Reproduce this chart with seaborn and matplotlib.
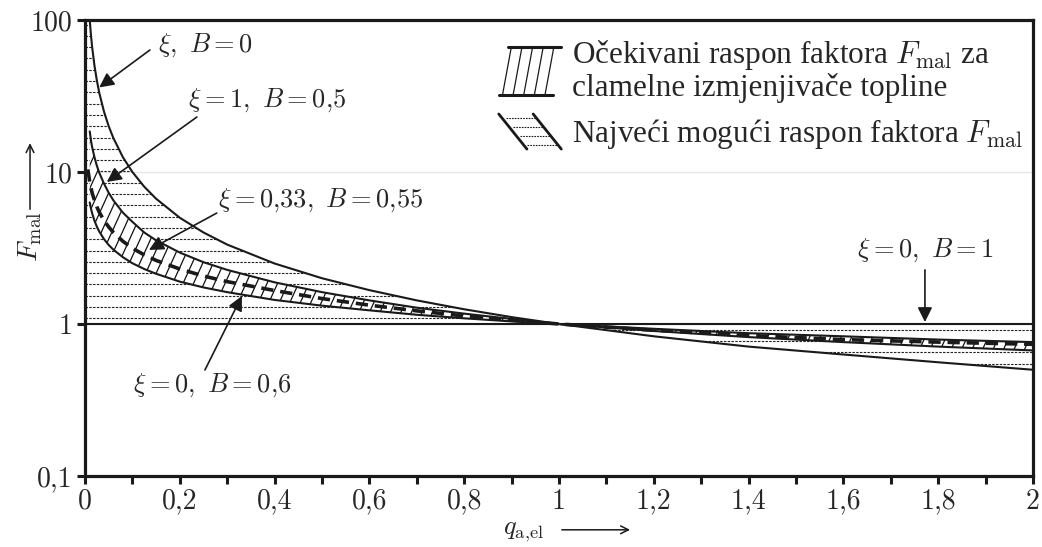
import numpy as np
import pandas as pd
import matplotlib
matplotlib.use("Agg")
import matplotlib.pyplot as plt
import seaborn as sns
from matplotlib.collections import LineCollection
from matplotlib.legend_handler import HandlerBase
from matplotlib.lines import Line2D
from matplotlib.ticker import FixedLocator, MultipleLocator, NullLocator

# values
q = [0.01, 0.0125, 0.015, 0.02, 0.025, 0.03, 0.04, 0.05, 0.06, 0.08, 0.1, 0.125, 0.15,
     0.2, 0.25, 0.3, 0.4, 0.5, 0.6, 0.7, 0.8, 0.9, 1.0, 1.2, 1.4, 1.6, 1.8, 2.0]
f_b0 = [100, 80, 66.7, 50, 40, 33.3, 25, 20, 16.7, 12.5, 10, 8, 6.67,
        5, 4, 3.33, 2.5, 2, 1.67, 1.43, 1.25, 1.11, 1.0, 0.83, 0.71, 0.63, 0.56, 0.5]
f_x1_b05 = [18.5, 16.2, 14.6, 12.5, 11.0, 9.9, 8.4, 7.3, 6.5, 5.4, 4.7, 4.0, 3.55,
            2.95, 2.55, 2.27, 1.88, 1.62, 1.43, 1.28, 1.17, 1.08, 1.0, 0.9, 0.82, 0.76, 0.71, 0.67]
f_x0_b06 = [6.31, 5.77, 5.36, 4.78, 4.37, 4.06, 3.62, 3.31, 3.08, 2.75, 2.51, 2.30, 2.14,
            1.90, 1.74, 1.62, 1.44, 1.32, 1.23, 1.15, 1.09, 1.04, 1.0, 0.93, 0.87, 0.83, 0.79, 0.76]
q_dash = [0.006] + q
f_x033_b055 = [10.4, 8.6, 7.9, 7.3, 6.5, 5.9, 5.45, 4.8, 4.35, 4.0, 3.5, 3.15, 2.85, 2.62,
               2.3, 2.07, 1.9, 1.66, 1.47, 1.33, 1.22, 1.13, 1.06, 1.0, 0.91, 0.84, 0.79, 0.76, 0.735]
q_b1 = [0.0, 2.0]
f_x0_b1 = [1.0, 1.0]

x_ticks = [0, 0.2, 0.4, 0.6, 0.8, 1.0, 1.2, 1.4, 1.6, 1.8, 2.0]
x_labels = ["0", "0,2", "0,4", "0,6", "0,8", "1", "1,2", "1,4", "1,6", "1,8", "2"]
y_ticks = [0.1, 1, 10, 100]
y_labels = ["0,1", "1", "10", "100"]
legend_labels = ["Očekivani raspon faktora $F_{\\rm mal}$ za\nclamelne izmjenjivače topline",
                 "Najveći mogući raspon faktora $F_{\\rm mal}$"]

sns.set_theme(style="white")
plt.rcParams['font.family'] = ['cmr10', 'DejaVu Serif']
plt.rcParams['mathtext.fontset'] = 'cm'
plt.rcParams['axes.unicode_minus'] = False
plt.rcParams['axes.formatter.use_mathtext'] = True

fig = plt.figure(figsize=(10.42, 5.47), dpi=100)
ax = fig.add_axes([85 / 1042, 1 - 476 / 547, 948 / 1042, 456 / 547])
ax.set_yscale('log')
ax.set_xlim(0, 2)
ax.set_ylim(0.1, 100)

# largest possible range: dotted horizontal hatch between 1/q and 1
qm = np.r_[0.0, q]
fm = np.r_[f_b0[0], f_b0]
region = ax.fill_between(qm, fm, 1, facecolor='none', edgecolor='none', zorder=1)
step = 11.3 / 152
lv = 10 ** ((np.arange(-40, 40) + 0.5) * step)
hl = ax.hlines(lv, 0, 2, colors='#222222', linewidth=0.8, linestyles=(0, (2.2, 1.2)), zorder=1)
hl.set_clip_path(region.get_paths()[0], ax.transData)

# expected range band: white fill with steep slanted hatch
band = ax.fill_between(q, f_x1_b05, f_x0_b06, facecolor='white', edgecolor='none', zorder=2)
W, H = 948.0, 456.0
slope = 2.2
segs = []
for i in range(-30, 110):
    x0 = i * 10.5 / W
    segs.append([(x0, 0), (x0 + H / slope / W, 1)])
lc = LineCollection(segs, colors='#111111', linewidths=0.9, transform=ax.transAxes, zorder=3)
ax.add_collection(lc)
lc.set_clip_path(band.get_paths()[0], ax.transData)

sns.lineplot(x=q, y=f_b0, ax=ax, color='k', lw=1.5, sort=False, estimator=None, zorder=4)
sns.lineplot(x=q, y=f_x1_b05, ax=ax, color='k', lw=1.5, sort=False, estimator=None, zorder=4)
sns.lineplot(x=q, y=f_x0_b06, ax=ax, color='k', lw=1.5, sort=False, estimator=None, zorder=4)
sns.lineplot(x=q_b1, y=f_x0_b1, ax=ax, color='k', lw=1.5, sort=False, estimator=None, zorder=4)
sns.lineplot(x=q_dash, y=f_x033_b055, ax=ax, color='k', lw=2.6, sort=False, estimator=None,
             zorder=5, dashes=False, linestyle=(0, (3.4, 1.9)))

ax.yaxis.grid(True, color='#e6e6e6', lw=1, zorder=0)
ax.set_axisbelow(True)

ax.xaxis.set_major_locator(FixedLocator(x_ticks))
ax.set_xticklabels(x_labels)
ax.xaxis.set_minor_locator(MultipleLocator(0.1))
ax.yaxis.set_major_locator(FixedLocator(y_ticks))
ax.yaxis.set_minor_locator(NullLocator())
ax.set_yticklabels(y_labels)
ax.tick_params(which='both', direction='out', length=6, width=2.2, labelsize=20, pad=3,
               bottom=True, left=True, color='k')
for sp in ax.spines.values():
    sp.set_linewidth(2.3)
    sp.set_color('k')

# axis titles with long arrows
ax.set_xlabel(r"$q_{\rm a{,}el}$", fontsize=19, va='center')
ax.xaxis.set_label_coords(0.463, -0.123)
ax.set_ylabel(r"$F_{\rm mal}$", fontsize=20, va='center')
ax.yaxis.set_label_coords(-0.058, 0.525)
thin = dict(arrowstyle='->', color='k', lw=1.1, shrinkA=0, shrinkB=0, mutation_scale=14)
ax.annotate("", xy=(0.575, -0.118), xytext=(0.503, -0.118), xycoords='axes fraction',
            textcoords='axes fraction', arrowprops=thin, annotation_clip=False)
ax.annotate("", xy=(-0.058, 0.73), xytext=(-0.058, 0.585), xycoords='axes fraction',
            textcoords='axes fraction', arrowprops=thin, annotation_clip=False)

arrow = dict(arrowstyle='-|>', color='k', lw=1.2, shrinkA=0, shrinkB=0, mutation_scale=22)
notes = [
    (r"$\xi,\ B=0$", (0.154, 68.5), (0.137, 63.5), (0.030, 36)),
    (r"$\xi=1,\ B=0{,}5$", (0.217, 29.8), (0.236, 23.0), (0.046, 8.6)),
    (r"$\xi=0{,}33,\ B=0{,}55$", (0.281, 6.54), (0.278, 5.37), (0.135, 3.07)),
    (r"$\xi=0,\ B=0{,}6$", (0.101, 0.397), (0.253, 0.498), (0.331, 1.53)),
    (r"$\xi=0,\ B=1$", (1.629, 3.07), (1.772, 2.27), (1.772, 1.03)),
]
for txt, tpos, tail, tip in notes:
    ax.text(tpos[0], tpos[1], txt, fontsize=19, ha='left', va='center', zorder=6)
    ax.annotate("", xy=tip, xytext=tail, arrowprops=arrow, zorder=6)


class BandHandle(HandlerBase):
    def create_artists(self, legend, orig_handle, xd, yd, width, height, fontsize, trans):
        x0, y0 = -xd, -yd
        h = height * 1.35
        y0 = y0 - (h - height) / 2
        arts = [Line2D([x0 + 0.14 * width, x0 + width], [y0 + h, y0 + h], color='k', lw=2.2),
                Line2D([x0, x0 + 0.86 * width], [y0, y0], color='k', lw=2.2)]
        for k in range(5):
            xa = x0 + 0.06 * width + k * 0.17 * width
            arts.append(Line2D([xa, xa + 0.14 * width], [y0, y0 + h], color='k', lw=0.9))
        for a in arts:
            a.set_transform(trans)
        return arts


class RangeHandle(HandlerBase):
    def create_artists(self, legend, orig_handle, xd, yd, width, height, fontsize, trans):
        x0, y0 = -xd, -yd
        arts = [Line2D([x0, x0 + 0.45 * width], [y0 + height, y0], color='k', lw=2.0),
                Line2D([x0 + 0.55 * width, x0 + width], [y0 + height, y0], color='k', lw=2.0)]
        for k in range(4):
            yy = y0 + height * (0.88 - k * 0.25)
            xl = x0 + 0.45 * width * (1 - (yy - y0) / height)
            arts.append(Line2D([xl + 0.06 * width, xl + 0.55 * width], [yy, yy], color='k',
                               lw=0.8, linestyle=(0, (1.5, 1.0))))
        for a in arts:
            a.set_transform(trans)
        return arts


class H1:
    pass


class H2:
    pass


leg = ax.legend([H1(), H2()], legend_labels,
                handler_map={H1: BandHandle(), H2: RangeHandle()},
                loc='upper left', bbox_to_anchor=(0.42, 0.995), frameon=False,
                prop=dict(family='Liberation Serif', size=22.5),
                handlelength=2.0, handleheight=1.35, handletextpad=0.35, labelspacing=0.35,
                borderpad=0)
for t in leg.get_texts():
    t.set_linespacing(1.05)
leg.set_zorder(7)

fig.savefig("out.png", dpi=100)
